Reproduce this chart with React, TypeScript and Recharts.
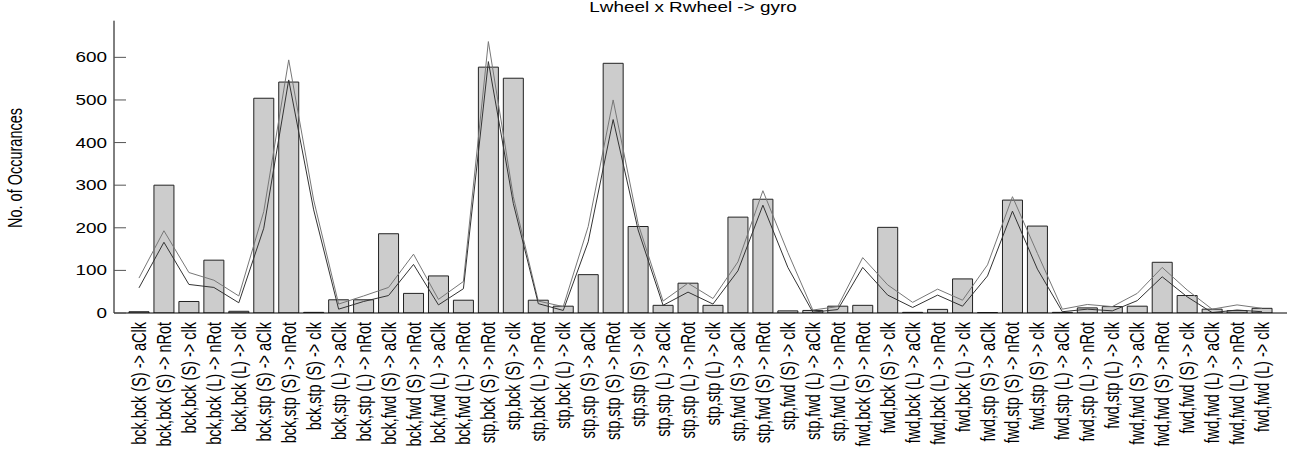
import React from 'react';
import { ComposedChart, Bar, Line, XAxis, YAxis } from 'recharts';

const categories = [
  'bck,bck (S) -> aClk', 'bck,bck (S) -> nRot', 'bck,bck (S) -> clk', 'bck,bck (L) -> nRot', 'bck,bck (L) -> clk',
  'bck,stp (S) -> aClk', 'bck,stp (S) -> nRot', 'bck,stp (S) -> clk', 'bck,stp (L) -> aClk', 'bck,stp (L) -> nRot',
  'bck,fwd (S) -> aClk', 'bck,fwd (S) -> nRot', 'bck,fwd (L) -> aClk', 'bck,fwd (L) -> nRot',
  'stp,bck (S) -> nRot', 'stp,bck (S) -> clk', 'stp,bck (L) -> nRot', 'stp,bck (L) -> clk',
  'stp,stp (S) -> aClk', 'stp,stp (S) -> nRot', 'stp,stp (S) -> clk', 'stp,stp (L) -> aClk', 'stp,stp (L) -> nRot', 'stp,stp (L) -> clk',
  'stp,fwd (S) -> aClk', 'stp,fwd (S) -> nRot', 'stp,fwd (S) -> clk', 'stp,fwd (L) -> aClk', 'stp,fwd (L) -> nRot',
  'fwd,bck (S) -> nRot', 'fwd,bck (S) -> clk', 'fwd,bck (L) -> aClk', 'fwd,bck (L) -> nRot', 'fwd,bck (L) -> clk',
  'fwd,stp (S) -> aClk', 'fwd,stp (S) -> nRot', 'fwd,stp (S) -> clk', 'fwd,stp (L) -> aClk', 'fwd,stp (L) -> nRot', 'fwd,stp (L) -> clk',
  'fwd,fwd (S) -> aClk', 'fwd,fwd (S) -> nRot', 'fwd,fwd (S) -> clk', 'fwd,fwd (L) -> aClk', 'fwd,fwd (L) -> nRot', 'fwd,fwd (L) -> clk',
];

const occurrences = [
  3, 300, 27, 124, 4,
  504, 542, 1.5, 31, 31,
  186, 46, 87, 30,
  577, 551, 30, 16,
  90, 586, 203, 18, 70, 18,
  225, 267, 5, 6, 16,
  18, 201, 1.5, 8.5, 80,
  1, 265, 204, 1.5, 12, 15,
  16, 119, 41, 9, 5.5, 11,
];

const upperModel = [
  82, 193, 95, 77, 40,
  238, 594, 265, 21, 40,
  60, 138, 32, 74,
  637, 273, 28, 15,
  203, 500, 210, 28, 70, 34,
  120, 287, 142, 7, 15,
  130, 66, 25, 56, 30,
  113, 273, 140, 9, 20, 15,
  46, 107, 54, 9, 19, 11,
];

const lowerModel = [
  59, 166, 67, 60, 24,
  199, 547, 242, 9, 27,
  41, 114, 19, 57,
  590, 257, 22, 6,
  167, 454, 195, 18, 49, 21,
  99, 253, 107, 2, 8,
  107, 42, 13, 42, 16,
  87, 239, 103, 3, 9, 5,
  29, 85, 38, 1, 7, 3,
];

const yTicks = [0, 100, 200, 300, 400, 500, 600];
const yMax = 686;

const data = categories.map((label, i) => ({
  label,
  count: occurrences[i],
  upper: upperModel[i],
  lower: lowerModel[i],
}));

const FONT = "'Liberation Sans', Arial, Helvetica, sans-serif";
const STRETCH = 1.35;

function XTick(props: any) {
  const { x, y, payload } = props;
  return (
    <text
      transform={`translate(${x + 7},${y + 9}) scale(${STRETCH},1) rotate(-90)`}
      textAnchor="end"
      fontFamily={FONT}
      fontSize={14.5}
      fill="#000"
    >
      {payload.value}
    </text>
  );
}

function YTick(props: any) {
  const { x, y, payload } = props;
  return (
    <g>
      <line x1={x} x2={x + 12} y1={y} y2={y} stroke="#555" strokeWidth={1} />
      <text
        transform={`translate(${x - 7},${y + 5}) scale(${STRETCH},1)`}
        textAnchor="end"
        fontFamily={FONT}
        fontSize={14}
        fill="#000"
      >
        {payload.value}
      </text>
    </g>
  );
}

export default function App() {
  return (
    <div style={{ position: 'absolute', left: 0, top: 0, width: 1294, height: 456, background: '#fff' }}>
      <ComposedChart
        width={1294}
        height={456}
        data={data}
        margin={{ top: 20.7, right: 7, bottom: 0, left: 0 }}
        barCategoryGap="10%"
      >
        <XAxis
          dataKey="label"
          xAxisId="b"
          height={143}
          interval={0}
          tickLine={false}
          tickSize={0}
          tickMargin={0}
          padding={{ left: 12.5, right: 12.5 }}
          axisLine={{ stroke: '#000', strokeWidth: 1 }}
          tick={<XTick />}
        />
        <XAxis
          dataKey="label"
          xAxisId="t"
          orientation="top"
          height={0}
          interval={0}
          tick={false}
          tickLine={false}
          padding={{ left: 12.5, right: 12.5 }}
          axisLine={{ stroke: '#000', strokeWidth: 1 }}
        />
        <YAxis
          yAxisId="l"
          width={114}
          domain={[0, yMax]}
          ticks={yTicks}
          allowDataOverflow
          tickLine={false}
          tickSize={0}
          tickMargin={0}
          axisLine={{ stroke: '#000', strokeWidth: 1 }}
          tick={<YTick />}
        />
        <YAxis
          yAxisId="r"
          orientation="right"
          width={0}
          domain={[0, yMax]}
          ticks={yTicks}
          allowDataOverflow
          mirror
          tickSize={12}
          tick={false}
          tickLine={{ stroke: '#555', strokeWidth: 1 }}
          axisLine={{ stroke: '#000', strokeWidth: 1 }}
        />
        <Bar
          dataKey="count"
          xAxisId="b"
          yAxisId="l"
          fill="#cccccc"
          stroke="#222"
          strokeWidth={1}
          isAnimationActive={false}
        />
        <Line
          dataKey="upper"
          xAxisId="b"
          yAxisId="l"
          type="linear"
          stroke="#777"
          strokeWidth={1}
          dot={false}
          activeDot={false}
          isAnimationActive={false}
        />
        <Line
          dataKey="lower"
          xAxisId="b"
          yAxisId="l"
          type="linear"
          stroke="#333"
          strokeWidth={1}
          dot={false}
          activeDot={false}
          isAnimationActive={false}
        />
      </ComposedChart>
      <svg
        width={1294}
        height={456}
        style={{ position: 'absolute', left: 0, top: 0, pointerEvents: 'none' }}
      >
        <text
          transform={`translate(693,12) scale(${STRETCH},1)`}
          textAnchor="middle"
          fontFamily={FONT}
          fontSize={14}
          fill="#000"
        >
          Lwheel x Rwheel -&gt; gyro
        </text>
        <text
          transform={`translate(22,168) scale(${STRETCH},1) rotate(-90)`}
          textAnchor="middle"
          fontFamily={FONT}
          fontSize={14.5}
          fill="#000"
        >
          No. of Occurances
        </text>
      </svg>
    </div>
  );
}
